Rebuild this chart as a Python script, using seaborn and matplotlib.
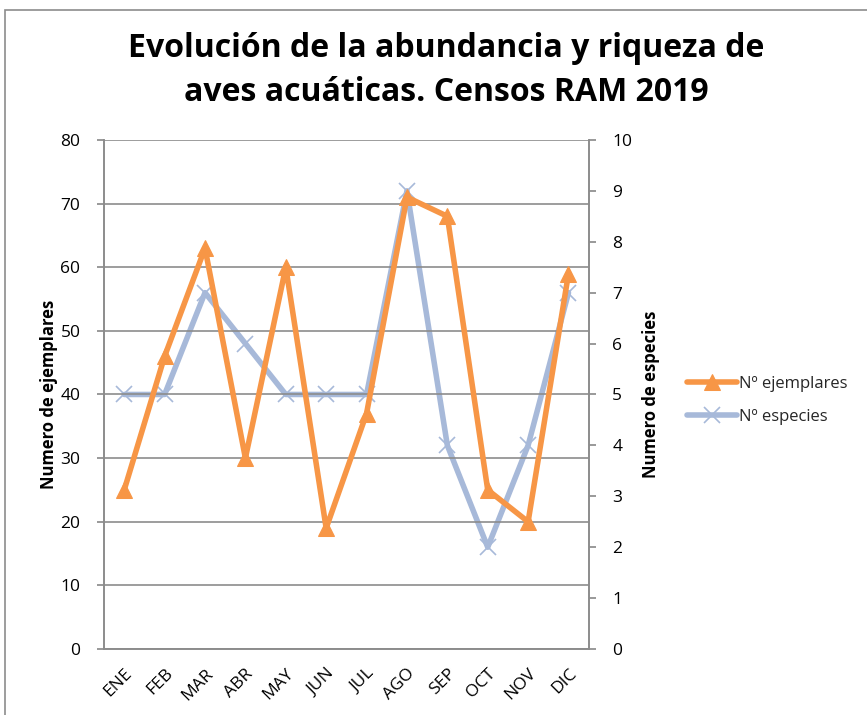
import matplotlib
matplotlib.use("Agg")
import matplotlib.pyplot as plt
import seaborn as sns
import pandas as pd
from matplotlib.patches import Rectangle

months = ["ENE", "FEB", "MAR", "ABR", "MAY", "JUN", "JUL", "AGO", "SEP", "OCT", "NOV", "DIC"]
ejemplares = [25, 46, 63, 30, 60, 19, 37, 71, 68, 25, 20, 59]
especies = [5, 5, 7, 6, 5, 5, 5, 9, 4, 2, 4, 7]
left_ticks = [0, 10, 20, 30, 40, 50, 60, 70, 80]
right_ticks = [0, 1, 2, 3, 4, 5, 6, 7, 8, 9, 10]

sns.set_theme(style="white")
plt.rcParams['font.family'] = ['Open Sans', 'DejaVu Sans']

df = pd.DataFrame({"pos": range(len(months)), "mes": months,
                   "ejemplares": ejemplares, "especies": especies})

ORANGE = "#F79646"
BLUE = "#A7B9D9"
GRID = "#8C8C8C"

fig = plt.figure(figsize=(8.67, 7.15), dpi=100)
ax = fig.add_axes([0.12, 0.0923, 0.559, 0.712])
ax2 = ax.twinx()

sns.lineplot(data=df, x="pos", y="ejemplares", ax=ax, color=ORANGE, lw=4,
             marker="^", markersize=12, markeredgecolor=ORANGE, label="Nº ejemplares", legend=False)
sns.lineplot(data=df, x="pos", y="especies", ax=ax2, color=BLUE, lw=4,
             marker="x", markersize=12, markeredgewidth=1.2, markeredgecolor=BLUE,
             label="Nº especies", legend=False)

ax.set_xlim(-0.5, len(months) - 0.5)
ax.set_ylim(0, 80)
ax2.set_ylim(0, 10)
ax.set_yticks(left_ticks)
ax2.set_yticks(right_ticks)
ax.set_xticks(range(len(months)))
ax.set_xticklabels(months, rotation=45, ha="right", rotation_mode="anchor", fontsize=12.5, color="black")
ax.tick_params(axis="x", length=0, pad=12)
ax.tick_params(axis="y", labelsize=12.5, labelcolor="black", length=5, color=GRID, left=True,
               direction="out", pad=12)
ax2.tick_params(axis="y", labelsize=12.5, labelcolor="black", length=5, color=GRID, right=True,
                direction="out", pad=12)

ax.yaxis.grid(True, color=GRID, lw=1.2)
ax.xaxis.grid(False)
ax2.grid(False)
for a in (ax, ax2):
    a.spines["top"].set_visible(False)
    for s in ("left", "right", "bottom"):
        a.spines[s].set_color(GRID)
        a.spines[s].set_linewidth(1.2)
ax.set_zorder(ax2.get_zorder() + 1)
ax.patch.set_visible(False)

ax.set_xlabel("")
ax.set_ylabel("Numero de ejemplares", fontsize=12, fontweight="bold", labelpad=2, color="black")
ax2.set_ylabel("Numero de especies", fontsize=12, fontweight="bold", labelpad=7, color="black")

fig.suptitle("Evolución de la abundancia y riqueza de\naves acuáticas. Censos RAM 2019",
             x=0.515, y=0.955, fontsize=23, fontweight="bold", linespacing=1.45, color="black")

h1, l1 = ax.get_legend_handles_labels()
h2, l2 = ax2.get_legend_handles_labels()
fig.legend(h1 + h2, l1 + l2, loc="center left", bbox_to_anchor=(0.775, 0.44),
           frameon=False, fontsize=12, handlelength=3, handletextpad=0.1, labelspacing=1.0)

fig.patches.append(Rectangle((0.006, -0.01), 1.2, 0.996, transform=fig.transFigure,
                             fill=False, edgecolor="#8C8C8C", lw=1.2))

fig.savefig("out.png", dpi=100)
